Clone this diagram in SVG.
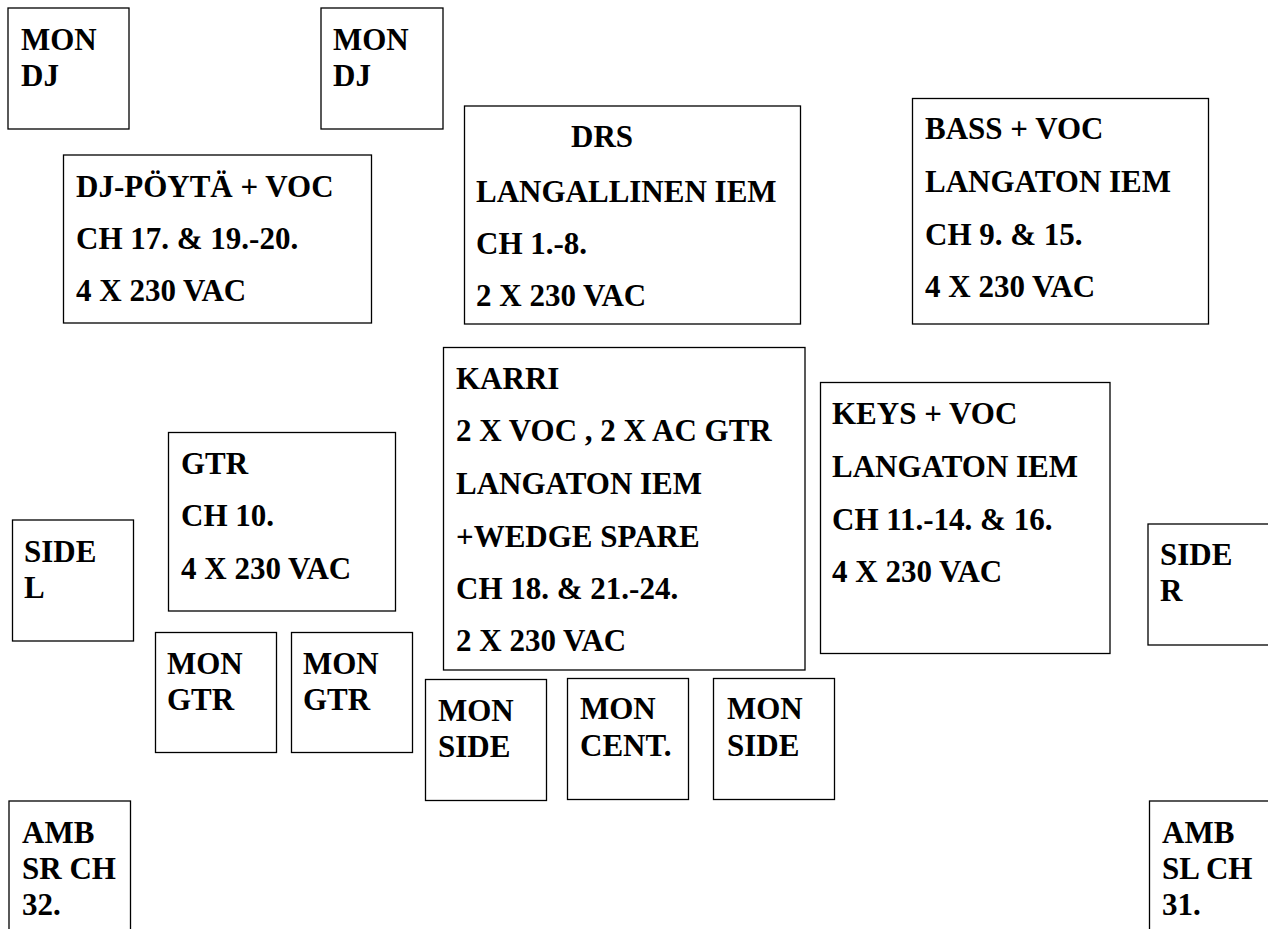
<svg xmlns="http://www.w3.org/2000/svg" width="1268" height="929" viewBox="0 0 1268 929">
<style>
rect.b{fill:#fff;stroke:#000;stroke-width:1.3}
text{font-family:"Liberation Serif","Times New Roman",serif;font-weight:bold;font-size:31px;fill:#000}
</style>
<rect width="1268" height="929" fill="#fff"/>
<g id="mon-dj-1"><rect class="b" x="8" y="8" width="121" height="121"/><text x="21" y="50">MON</text><text x="21" y="86">DJ</text></g>
<g id="mon-dj-2"><rect class="b" x="321" y="8" width="122" height="121"/><text x="333" y="50">MON</text><text x="333" y="86">DJ</text></g>
<g id="dj-poyta"><rect class="b" x="63.5" y="155" width="308" height="168"/><text x="76" y="197">DJ-PÖYTÄ + VOC</text><text x="76" y="249">CH 17. &amp; 19.-20.</text><text x="76" y="301">4 X 230 VAC</text></g>
<g id="drs"><rect class="b" x="464.5" y="106" width="336" height="218"/><text x="571" y="147">DRS</text><text x="476" y="202">LANGALLINEN IEM</text><text x="476" y="254">CH 1.-8.</text><text x="476" y="306">2 X 230 VAC</text></g>
<g id="bass"><rect class="b" x="912.5" y="98.5" width="296" height="225.5"/><text x="925" y="139">BASS + VOC</text><text x="925" y="192">LANGATON IEM</text><text x="925" y="245">CH 9. &amp; 15.</text><text x="925" y="297">4 X 230 VAC</text></g>
<g id="karri"><rect class="b" x="443.5" y="347.5" width="361.5" height="322.5"/><text x="456" y="389">KARRI</text><text x="456" y="441">2 X VOC , 2 X AC GTR</text><text x="456" y="494">LANGATON IEM</text><text x="456" y="547">+WEDGE SPARE</text><text x="456" y="599">CH 18. &amp; 21.-24.</text><text x="456" y="651">2 X 230 VAC</text></g>
<g id="keys"><rect class="b" x="820.5" y="382.5" width="289.5" height="271"/><text x="832" y="424">KEYS + VOC</text><text x="832" y="477">LANGATON IEM</text><text x="832" y="530">CH 11.-14. &amp; 16.</text><text x="832" y="582">4 X 230 VAC</text></g>
<g id="gtr"><rect class="b" x="168.5" y="432.5" width="227" height="178.5"/><text x="181" y="474">GTR</text><text x="181" y="526">CH 10.</text><text x="181" y="579">4 X 230 VAC</text></g>
<g id="side-l"><rect class="b" x="12.5" y="520" width="121" height="121"/><text x="24" y="562">SIDE</text><text x="24" y="598">L</text></g>
<g id="side-r"><rect class="b" x="1148" y="524" width="121" height="121"/><text x="1160" y="565">SIDE</text><text x="1160" y="601">R</text></g>
<g id="mon-gtr-1"><rect class="b" x="155.5" y="632.5" width="121" height="120"/><text x="167" y="674">MON</text><text x="167" y="710">GTR</text></g>
<g id="mon-gtr-2"><rect class="b" x="291.5" y="632.5" width="121" height="120"/><text x="303" y="674">MON</text><text x="303" y="710">GTR</text></g>
<g id="mon-side-1"><rect class="b" x="425.5" y="679.5" width="121" height="121"/><text x="438" y="721">MON</text><text x="438" y="757">SIDE</text></g>
<g id="mon-cent"><rect class="b" x="567.5" y="678.5" width="121" height="121"/><text x="580" y="719">MON</text><text x="580" y="756">CENT.</text></g>
<g id="mon-side-2"><rect class="b" x="713.5" y="678.5" width="121" height="121"/><text x="727" y="719">MON</text><text x="727" y="756">SIDE</text></g>
<g id="amb-sr"><rect class="b" x="9" y="801" width="121.5" height="140"/><text x="22" y="843">AMB</text><text x="22" y="879">SR CH</text><text x="22" y="915">32.</text></g>
<g id="amb-sl"><rect class="b" x="1149.5" y="801" width="121" height="140"/><text x="1162" y="843">AMB</text><text x="1162" y="879">SL CH</text><text x="1162" y="915">31.</text></g>
<g id="connectors"/>
</svg>
